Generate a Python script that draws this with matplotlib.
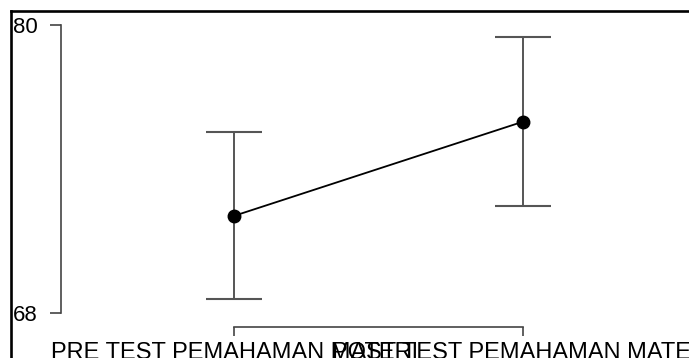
import matplotlib
matplotlib.use("Agg")
import matplotlib.pyplot as plt
from matplotlib.lines import Line2D

# data
groups = ["PRE TEST PEMAHAMAN MATERI", "POST TEST PEMAHAMAN MATERI"]
means = [72.04, 75.97]
ci_lower = [68.56, 72.46]
ci_upper = [75.55, 79.49]
y_ticks = [68, 80]

plt.rcParams['font.family'] = ['Liberation Sans', 'DejaVu Sans']

W, H = 689, 358
fig = plt.figure(figsize=(W / 100, H / 100), dpi=100)

# axes placed in pixels (left, top, right, bottom)
ax_l, ax_t, ax_r, ax_b = 61, 11, 689, 327
ax = fig.add_axes([ax_l / W, (H - ax_b) / H, (ax_r - ax_l) / W, (ax_b - ax_t) / H])

x = list(range(len(groups)))
yerr = [[m - lo for m, lo in zip(means, ci_lower)],
        [hi - m for m, hi in zip(means, ci_upper)]]

ax.errorbar(x, means, yerr=yerr, fmt='none', ecolor='#555555', elinewidth=1.4,
            capsize=20.5, capthick=1.5, zorder=2)
ax.plot(x, means, color='black', linewidth=1.3, marker='o', markersize=9,
        markerfacecolor='black', markeredgecolor='black', zorder=3)

ax.set_xlim(-0.5997, 1.5734)
ax.set_ylim(67.40, 80.584)

ax.set_yticks(y_ticks)
ax.set_yticklabels([str(t) for t in y_ticks])
ax.set_xticks(x)
ax.set_xticklabels(groups)

for s in ['top', 'right']:
    ax.spines[s].set_visible(False)
ax.spines['left'].set_bounds(y_ticks[0], y_ticks[-1])
ax.spines['bottom'].set_bounds(x[0], x[-1])
for s in ['left', 'bottom']:
    ax.spines[s].set_color('#444444')
    ax.spines[s].set_linewidth(1.2)

ax.tick_params(axis='y', direction='out', length=8, width=1.2, color='#444444',
               labelsize=16, pad=8.5, labelcolor='black')
ax.tick_params(axis='x', direction='out', length=6.5, width=1.2, color='#444444',
               labelsize=17, pad=4, labelcolor='black')
ax.patch.set_alpha(0)

# black frame of the cropped panel (top and left)
fig.add_artist(Line2D([11 / W, 1], [1 - 11 / H, 1 - 11 / H], color='black',
                      linewidth=1.9, transform=fig.transFigure))
fig.add_artist(Line2D([11 / W, 11 / W], [0, 1 - 11 / H], color='black',
                      linewidth=1.9, transform=fig.transFigure))

fig.savefig('out.png', dpi=100)
